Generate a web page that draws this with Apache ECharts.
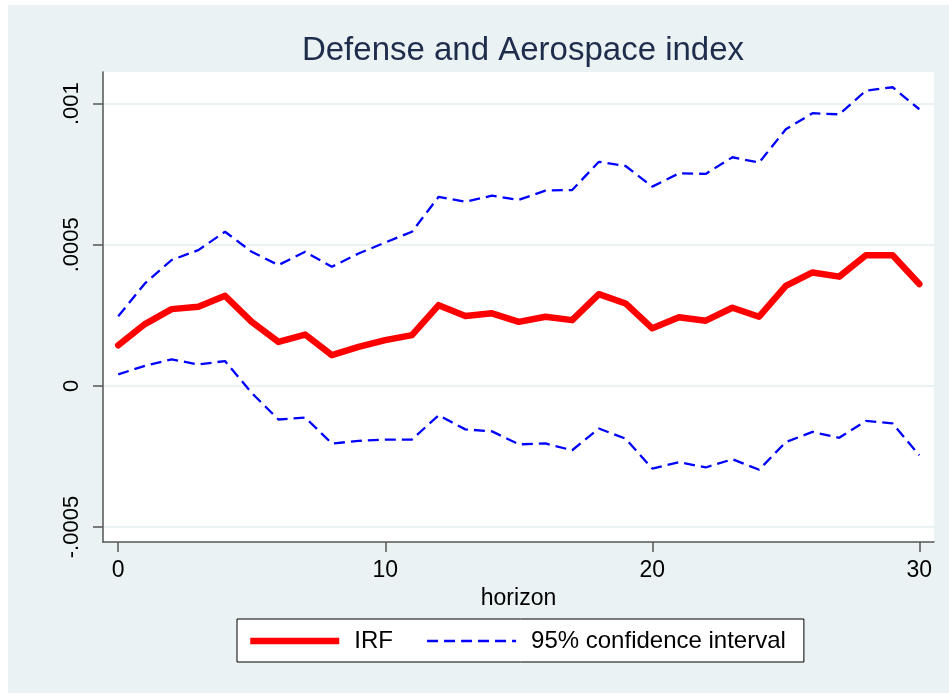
<!DOCTYPE html>
<html>
<head>
<meta charset="utf-8">
<title>Defense and Aerospace index</title>
<script src="https://cdn.jsdelivr.net/npm/echarts@6/dist/echarts.min.js"></script>
<style>
  html, body { margin: 0; padding: 0; background: #fff; }
  #chart { width: 949px; height: 694px; }
</style>
</head>
<body>
<div id="chart"></div>
<script>
// horizon 0..30
const horizon = [0, 1, 2, 3, 4, 5, 6, 7, 8, 9, 10, 11, 12, 13, 14, 15, 16, 17, 18, 19, 20, 21, 22, 23, 24, 25, 26, 27, 28, 29, 30]

const irf = [0.000144, 0.000219, 0.000272, 0.000280, 0.000319, 0.000227, 0.000156, 0.000182, 0.000109, 0.000138,
  0.000162, 0.000180, 0.000286, 0.000248, 0.000257, 0.000227, 0.000245, 0.000233, 0.000325, 0.000292,
  0.000204, 0.000243, 0.000231, 0.000277, 0.000245, 0.000354, 0.000402, 0.000387, 0.000463, 0.000463, 0.000361]

const ciUpper = [0.000247, 0.000363, 0.000446, 0.000481, 0.000546, 0.000475, 0.000428, 0.000475, 0.000422, 0.000469,
  0.000508, 0.000546, 0.000670, 0.000652, 0.000674, 0.000659, 0.000692, 0.000694, 0.000794, 0.000779,
  0.000706, 0.000753, 0.000751, 0.000810, 0.000791, 0.000909, 0.000966, 0.000962, 0.001046, 0.001058, 0.000980]

const ciLower = [0.000041, 0.000071, 0.000094, 0.000076, 0.000088, -0.000025, -0.000119, -0.000112, -0.000204, -0.000195,
  -0.000190, -0.000190, -0.000104, -0.000154, -0.000161, -0.000207, -0.000204, -0.000228, -0.000151, -0.000187,
  -0.000293, -0.000270, -0.000289, -0.000260, -0.000297, -0.000199, -0.000163, -0.000184, -0.000124, -0.000133, -0.000246]

const xTicks = [0, 10, 20, 30]
const yTicks = [-0.0005, 0, 0.0005, 0.001]
const yTickLabels = { '-0.0005': '-.0005', '0': '0', '0.0005': '.0005', '0.001': '.001' }

const FONT = 'Liberation Sans, Arial, sans-serif'
const BG = '#eaf2f3'
const AXIS = '#555555'

const pairs = (ys) => horizon.map((h, i) => [h, ys[i]])

const chart = echarts.init(document.getElementById('chart'), null, { renderer: 'canvas' })

const ciLine = {
  color: '#0000ff',
  width: 2.3,
  type: [11, 6]
}

// hide the circle marker that line-series legend icons get by default
const noMarker = { color: 'rgba(0,0,0,0)', borderWidth: 0, opacity: 0 }

chart.setOption({
  backgroundColor: '#ffffff',
  animation: false,
  graphic: [{
    type: 'rect',
    z: -10,
    shape: { x: 8, y: 5, width: 941, height: 688 },
    style: { fill: BG },
    silent: true
  }],
  title: {
    text: 'Defense and Aerospace index',
    left: 518,
    textAlign: 'center',
    top: 29,
    textStyle: { fontFamily: FONT, fontSize: 33, fontWeight: 'normal', color: '#1f2d4d' }
  },
  grid: {
    left: 103,
    top: 72,
    width: 831,
    height: 470,
    show: true,
    backgroundColor: '#ffffff',
    borderWidth: 0
  },
  xAxis: {
    type: 'value',
    min: -0.57,
    max: 30.55,
    name: 'horizon',
    nameLocation: 'middle',
    nameGap: 39,
    nameTextStyle: { fontFamily: FONT, fontSize: 23, color: '#000' },
    axisLine: { show: true, onZero: false, lineStyle: { color: AXIS, width: 1.5 } },
    axisTick: { show: true, length: 10, customValues: xTicks, lineStyle: { color: AXIS, width: 1.5 } },
    axisLabel: { customValues: xTicks, margin: 17, fontFamily: FONT, fontSize: 23, color: '#000' },
    splitLine: { show: false }
  },
  yAxis: {
    type: 'value',
    min: -0.000553,
    max: 0.001112,
    axisLine: { show: true, onZero: false, lineStyle: { color: AXIS, width: 1.5 } },
    axisTick: { show: true, length: 10, customValues: yTicks, lineStyle: { color: AXIS, width: 1.5 } },
    axisLabel: {
      customValues: yTicks,
      rotate: 90,
      margin: 20,
      fontFamily: FONT,
      fontSize: 22,
      color: '#000',
      formatter: (v) => yTickLabels[String(v)] ?? String(v)
    },
    splitLine: { show: true, customValues: yTicks, lineStyle: { color: BG, width: 2 } }
  },
  legend: {
    left: 237,
    top: 619,
    orient: 'horizontal',
    backgroundColor: '#ffffff',
    borderColor: '#000000',
    borderWidth: 1,
    borderRadius: 0,
    padding: [10, 18, 9, 10],
    itemGap: 33,
    itemWidth: 89,
    itemHeight: 14,
    textStyle: { fontFamily: FONT, fontSize: 24, color: '#000', padding: [0, 0, 0, 10] },
    data: [
      { name: 'IRF', itemStyle: noMarker, lineStyle: { width: 6.5, color: '#ff0000', type: 'solid', cap: 'butt' } },
      { name: '95% confidence interval', itemStyle: noMarker, lineStyle: { width: 2.3, color: '#0000ff', type: [11, 6] } }
    ]
  },
  series: [
    {
      name: 'IRF',
      type: 'line',
      data: pairs(irf),
      symbol: 'none',
      z: 5,
      lineStyle: { color: '#ff0000', width: 6.5, cap: 'round', join: 'round' },
      itemStyle: { color: '#ff0000' }
    },
    {
      name: '95% confidence interval',
      type: 'line',
      data: pairs(ciUpper),
      symbol: 'none',
      lineStyle: ciLine,
      itemStyle: { color: '#0000ff' }
    },
    {
      name: '95% confidence interval',
      type: 'line',
      data: pairs(ciLower),
      symbol: 'none',
      lineStyle: ciLine,
      itemStyle: { color: '#0000ff' }
    }
  ]
})
</script>
</body>
</html>
